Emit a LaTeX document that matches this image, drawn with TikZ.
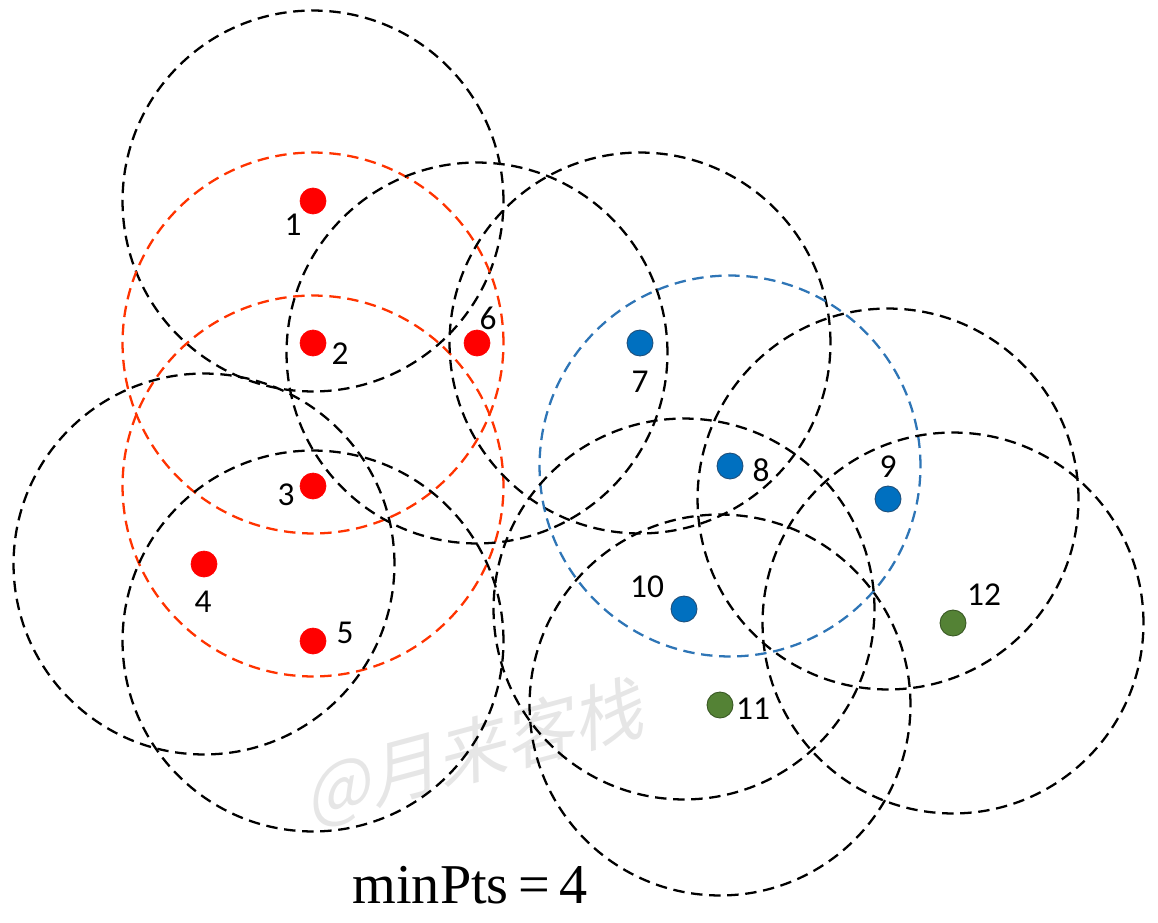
\documentclass[tikz,border=0pt]{standalone}
\usepackage{fontspec}
\setmainfont{Carlito}
\newfontfamily\serifnum{Liberation Serif}
\newfontfamily\cjk{Noto Sans CJK SC}
\definecolor{ptred}{HTML}{FF0000}
\definecolor{ptblue}{HTML}{0070C0}
\definecolor{ptbluedk}{HTML}{1F4E79}
\definecolor{ptgreen}{HTML}{548235}
\definecolor{ptgreendk}{HTML}{385723}
\definecolor{ringred}{HTML}{FF3300}
\definecolor{ringblue}{HTML}{2E75B6}
\definecolor{wm}{HTML}{E6E6E6}
\begin{document}
\begin{tikzpicture}[x=0.02cm,y=-0.02cm,
  ring/.style={draw=black,line width=1.3pt,dash pattern=on 6.5pt off 3.8pt,circle,minimum size=7.62cm,inner sep=0pt},
  ringr/.style={ring,draw=ringred},
  ringb/.style={ring,draw=ringblue},
  ptr/.style={circle,fill=ptred,draw=ptred,line width=0.4pt,minimum size=0.52cm,inner sep=0pt},
  ptb/.style={circle,fill=ptblue,draw=ptbluedk,line width=0.5pt,minimum size=0.52cm,inner sep=0pt},
  ptg/.style={circle,fill=ptgreen,draw=ptgreendk,line width=0.5pt,minimum size=0.52cm,inner sep=0pt},
  lbl/.style={font=\fontsize{19}{21}\selectfont,inner sep=0pt}]
\useasboundingbox (0,0) rectangle (1158,922);
% watermark
\node[text=wm,rotate=15,xslant=0.25,font=\cjk\fontsize{40}{42}\selectfont] (wmk) at (478,752) {@月来客栈};
% rings
\node[ring] (c1) at (313,201) {};
\node[ringr] (c2) at (313,343) {};
\node[ringr] (c3) at (313,486) {};
\node[ring] (c4) at (204,564) {};
\node[ring] (c5) at (313,641) {};
\node[ring] (c6) at (477,353) {};
\node[ring] (c7) at (640,343) {};
\node[ringb] (c8) at (730,466) {};
\node[ring] (c9) at (888,499) {};
\node[ring] (c10) at (684,609) {};
\node[ring] (c11) at (720,705) {};
\node[ring] (c12) at (953,623) {};
% points
\node[ptr] (p1) at (313,201) {};
\node[ptr] (p2) at (313,343) {};
\node[ptr] (p3) at (313,486) {};
\node[ptr] (p4) at (204,564) {};
\node[ptr] (p5) at (313,641) {};
\node[ptr] (p6) at (477,343) {};
\node[ptb] (p7) at (640,343) {};
\node[ptb] (p8) at (730,466) {};
\node[ptb] (p9) at (888,499) {};
\node[ptb] (p10) at (684,609) {};
\node[ptg] (p11) at (720,705) {};
\node[ptg] (p12) at (953,623) {};
% labels
\node[lbl] (l1) at (293,225) {1};
\node[lbl] (l2) at (340,354) {2};
\node[lbl] (l3) at (286,495) {3};
\node[lbl] (l4) at (203,602) {4};
\node[lbl] (l5) at (345,633) {5};
\node[lbl] (l6) at (488,318) {6};
\node[lbl] (l7) at (640,382) {7};
\node[lbl] (l8) at (761,470) {8};
\node[lbl] (l9) at (888,467) {9};
\node[lbl] (l10) at (647,587) {10};
\node[lbl] (l11) at (753,709) {11};
\node[lbl] (l12) at (984,595) {12};
\node[font=\serifnum\fontsize{32}{34}\selectfont,inner sep=0pt,anchor=base] (mp) at (470,903) {minPts\,=\,4};
\end{tikzpicture}
\end{document}
